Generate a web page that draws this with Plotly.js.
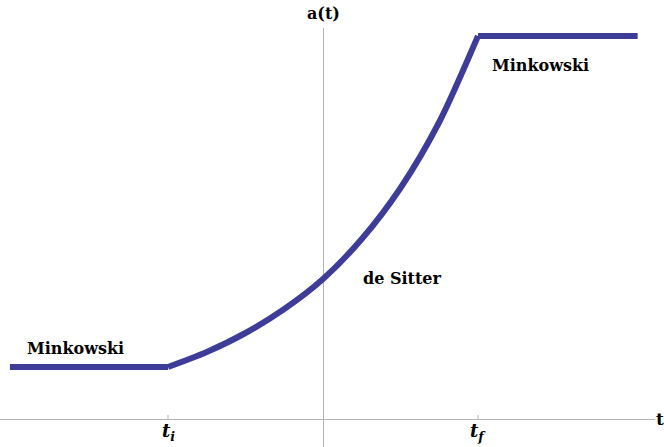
<!DOCTYPE html>
<html>
<head>
<meta charset="utf-8">
<script src="https://cdn.plot.ly/plotly-3.0.1.min.js"></script>
<style>
  html, body { margin: 0; padding: 0; background: #fff; }
  #plot { width: 664px; height: 447px; }
</style>
</head>
<body>
<div id="plot"></div>
<script>
// scale factor a(t) (t_i = -1, t_f = 1)
var tBefore = [-2.02, -1];
var aBefore = [0.52, 0.52];

var tInflation = [-1, -0.75, -0.5, -0.25, 0, 0.25, 0.5, 0.75, 1];
var aInflation = [0.52, 0.67, 0.86, 1.10, 1.40, 1.80, 2.31, 2.97, 3.83];

var tAfter = [1, 2.03];
var aAfter = [3.83, 3.83];

var tickVals = [-1, 1];
var tickText = ['<b><i>t</i></b><sub><b><i>i</i></b></sub>', '<b><i>t</i></b><sub><b><i>f</i></b></sub>'];

var curveColor = 'rgb(61, 61, 153)';
var axisColor = '#b3b3b3';
var serif = 'DejaVu Serif';

var lineStyle = {color: curveColor, width: 6};

var traces = [
	{x: tBefore, y: aBefore, type: 'scatter', mode: 'lines', line: lineStyle, hoverinfo: 'skip'},
	{x: tInflation, y: aInflation, type: 'scatter', mode: 'lines', line: {color: curveColor, width: 6, shape: 'spline', smoothing: 0.8}, hoverinfo: 'skip'},
	{x: tAfter, y: aAfter, type: 'scatter', mode: 'lines', line: lineStyle, hoverinfo: 'skip'}
];

var txtFont = {family: serif, size: 16, color: '#000'};

var annotations = [
	{text: '<b>a(t)</b>', xref: 'x', yref: 'paper', x: 0, y: 1, yanchor: 'middle', yshift: 15, showarrow: false, font: {family: serif, size: 16, color: '#000'}},
	{text: '<b>t</b>', xref: 'paper', yref: 'y', x: 1, y: 0, xanchor: 'left', xshift: -1, yanchor: 'middle', showarrow: false, font: {family: serif, size: 17, color: '#000'}},
	{text: '<b>Minkowski</b>', x: -1.6, y: 0.71, showarrow: false, font: txtFont},
	{text: '<b>Minkowski</b>', x: 1.406, y: 3.54, showarrow: false, font: txtFont},
	{text: '<b>de Sitter</b>', x: 0.51, y: 1.41, showarrow: false, font: txtFont}
];

var shapes = [];
for (var i = 0; i < tickVals.length; i++) {
	annotations.push({text: tickText[i], x: tickVals[i], y: 0, yanchor: 'middle', yshift: -13, showarrow: false, font: {family: serif, size: 18, color: '#000'}});
	shapes.push({type: 'line', xref: 'x', yref: 'y', ysizemode: 'pixel', yanchor: 0, x0: tickVals[i], x1: tickVals[i], y0: 0, y1: 4, line: {color: axisColor, width: 1}});
}

var layout = {
	width: 664,
	height: 447,
	margin: {l: 0, r: 9, t: 28, b: 0},
	paper_bgcolor: '#fff',
	plot_bgcolor: '#fff',
	showlegend: false,
	font: {family: serif},
	xaxis: {
		range: [-2.084, 2.142],
		showgrid: false,
		showline: false,
		showticklabels: false,
		ticks: '',
		zeroline: true,
		zerolinecolor: axisColor,
		zerolinewidth: 1
	},
	yaxis: {
		range: [-0.28, 3.91],
		showgrid: false,
		showline: false,
		showticklabels: false,
		ticks: '',
		zeroline: true,
		zerolinecolor: axisColor,
		zerolinewidth: 1
	},
	annotations: annotations,
	shapes: shapes
};

Plotly.newPlot('plot', traces, layout, {displayModeBar: false, staticPlot: true});
</script>
</body>
</html>
